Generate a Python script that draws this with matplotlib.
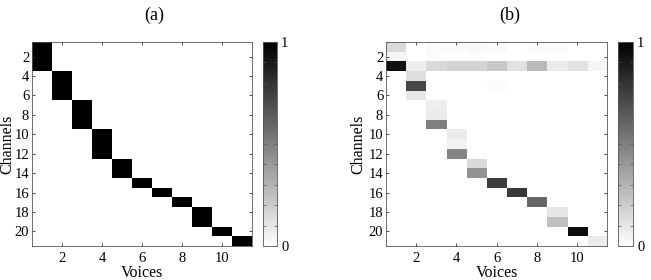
import numpy as np
import matplotlib
matplotlib.use("Agg")
import matplotlib.pyplot as plt

plt.rcParams['font.family'] = ['Liberation Serif', 'DejaVu Serif']

n_channels = 21
n_voices = 11
xticks = [2, 4, 6, 8, 10]
yticks = [2, 4, 6, 8, 10, 12, 14, 16, 18, 20]

# (a) ground truth: channel ranges (1-based, inclusive) assigned to each voice
truth_ranges = [(1, 3), (4, 6), (7, 9), (10, 12), (13, 14), (15, 15),
                (16, 16), (17, 17), (18, 19), (20, 20), (21, 21)]

# (b) estimated: (channel, voice, value), 1-based
est_entries = [
    (1, 1, 0.15), (1, 3, 0.02), (1, 4, 0.02), (1, 5, 0.03), (1, 6, 0.02),
    (1, 8, 0.02), (1, 9, 0.02),
    (2, 1, 0.04), (2, 3, 0.015), (2, 5, 0.015),
    (3, 1, 0.93), (3, 2, 0.07), (3, 3, 0.15), (3, 4, 0.17), (3, 5, 0.17),
    (3, 6, 0.22), (3, 7, 0.12), (3, 8, 0.27), (3, 9, 0.08), (3, 10, 0.12),
    (3, 11, 0.04),
    (4, 2, 0.13), (5, 2, 0.72), (5, 6, 0.015), (6, 2, 0.10),
    (7, 3, 0.07), (8, 3, 0.08), (9, 3, 0.50),
    (10, 4, 0.08), (11, 4, 0.05), (12, 4, 0.48),
    (13, 5, 0.15), (14, 5, 0.42),
    (15, 6, 0.76), (16, 7, 0.78), (17, 8, 0.60),
    (18, 9, 0.10), (19, 9, 0.25),
    (20, 10, 0.95), (21, 11, 0.08),
]

A = np.zeros((n_channels, n_voices))
for v, (c0, c1) in enumerate(truth_ranges):
    A[c0 - 1:c1, v] = 1.0

B = np.zeros((n_channels, n_voices))
for c, v, val in est_entries:
    B[c - 1, v - 1] = val

W, H = 651, 280
fig = plt.figure(figsize=(W / 100, H / 100), dpi=100)

def fx(px):
    return px / W

def fy(py):
    return 1 - py / H

panels = [
    dict(data=A, ax=(32, 252), cb=(263, 277), title="(a)", ylab_x=7),
    dict(data=B, ax=(386, 607), cb=(618, 633), title="(b)", ylab_x=358),
]
top, bot = 42, 246

for p in panels:
    x0, x1 = p['ax']
    ax = fig.add_axes([fx(x0), fy(bot), fx(x1 - x0), (bot - top) / H])
    im = ax.imshow(p['data'], cmap='gray_r', vmin=0, vmax=1, aspect='auto',
                   interpolation='nearest',
                   extent=[0.5, n_voices + 0.5, n_channels + 0.5, 0.5])
    ax.set_xticks(xticks)
    ax.set_yticks(yticks)
    ax.tick_params(direction='in', top=True, right=True, length=2.5,
                   width=0.6, labelsize=10.5, colors='#333333',
                   labelcolor='black')
    ax.tick_params(axis='x', pad=4)
    ax.tick_params(axis='y', pad=2)
    for s in ax.spines.values():
        s.set_linewidth(0.6)
        s.set_color('#555555')
    ax.set_xlabel("Voices", fontsize=11.5, labelpad=0)
    fig.text(fx(p['ylab_x']), fy((top + bot) / 2), "Channels", rotation=90,
             ha='center', va='center', fontsize=11.5)
    c0, c1 = p['cb']
    cax = fig.add_axes([fx(c0), fy(bot), fx(c1 - c0), (bot - top) / H])
    cb = fig.colorbar(im, cax=cax)
    cb.set_ticks(np.round(np.arange(0, 1.01, 0.1), 2))
    cb.set_ticklabels(['0'] + [''] * 9 + ['1'])
    cax.tick_params(direction='in', length=2, width=0.5, labelsize=10.5,
                    left=True, right=True, pad=3, colors='#555555',
                    labelcolor='black')
    cb.outline.set_linewidth(0.6)
    cb.outline.set_edgecolor('#555555')
    fig.text(fx((x0 + c1) / 2), fy(15), p['title'], ha='center', va='center',
             fontsize=13)

fig.savefig("out.png", dpi=100)
